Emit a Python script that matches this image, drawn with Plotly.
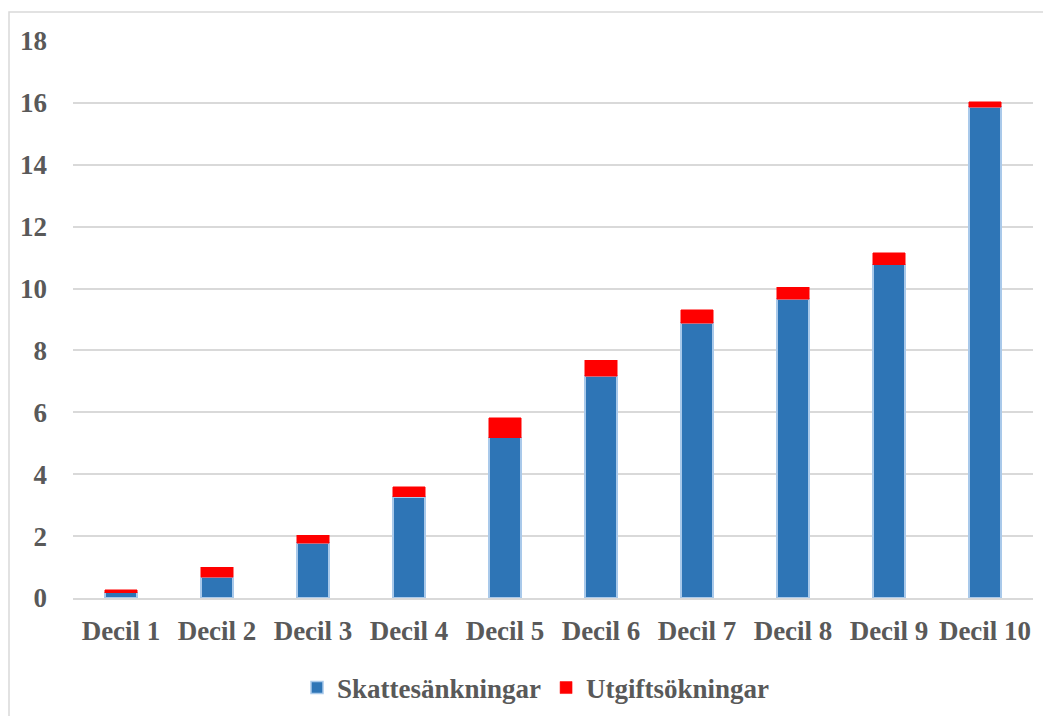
import plotly.graph_objects as go

categories = ["Decil 1", "Decil 2", "Decil 3", "Decil 4", "Decil 5",
              "Decil 6", "Decil 7", "Decil 8", "Decil 9", "Decil 10"]
skattesankningar = [0.17, 0.67, 1.77, 3.27, 5.18, 7.17, 8.88, 9.66, 10.77, 15.86]
utgiftsokningar = [0.10, 0.33, 0.25, 0.33, 0.64, 0.51, 0.44, 0.38, 0.39, 0.18]
y_ticks = [0, 2, 4, 6, 8, 10, 12, 14, 16, 18]

FONT = dict(family="Liberation Serif", size=27, color="#595959", weight="bold")

fig = go.Figure()
fig.add_trace(go.Bar(
    x=categories, y=skattesankningar, name="Skattesänkningar",
    marker=dict(color="#2E75B6", line=dict(color="#A9C9EA", width=1.5)),
))
fig.add_trace(go.Bar(
    x=categories, y=utgiftsokningar, name="Utgiftsökningar",
    marker=dict(color="#FF0000", line=dict(color="#FF0000", width=0.5)),
))

# page body has an 8px margin; figure coordinates are window coords minus 8
OFF = 8
W, H = 1051 - OFF, 716 - OFF
ml, mt = 73 - OFF, 41 - OFF
plot_right, plot_bottom = 1033 - OFF, 598 - OFF
mr, mb = W - plot_right, H - plot_bottom
pw, ph = W - ml - mr, H - mt - mb

def px_x(px):
    return (px - OFF - ml) / pw

def px_y(py):
    return (plot_bottom - (py - OFF)) / ph

fig.update_layout(
    width=W, height=H,
    margin=dict(l=ml, r=mr, t=mt, b=mb, autoexpand=False),
    barmode="stack",
    bargap=0.665,
    paper_bgcolor="white",
    plot_bgcolor="white",
    font=FONT,
    showlegend=True,
    legend=dict(
        orientation="h", x=px_x(536), xanchor="center",
        y=px_y(688), yanchor="middle",
        font=FONT, itemwidth=30, traceorder="normal",
        itemclick=False,
    ),
    xaxis=dict(
        showgrid=False, showline=True, linecolor="#D9D9D9", linewidth=1.5,
        ticks="", tickfont=FONT, ticklabelstandoff=8,
    ),
    yaxis=dict(
        range=[0, 18], tickvals=y_ticks, showgrid=True,
        gridcolor="#D9D9D9", gridwidth=1.5, zeroline=False,
        showline=False, ticks="", tickfont=FONT, ticklabelstandoff=25,
    ),
    shapes=[dict(
        type="rect", xref="paper", yref="paper",
        x0=px_x(9), x1=px_x(1090), y0=px_y(12), y1=px_y(780),
        line=dict(color="#D9D9D9", width=1.5), layer="below",
    )],
)

fig.write_html("out.html")
